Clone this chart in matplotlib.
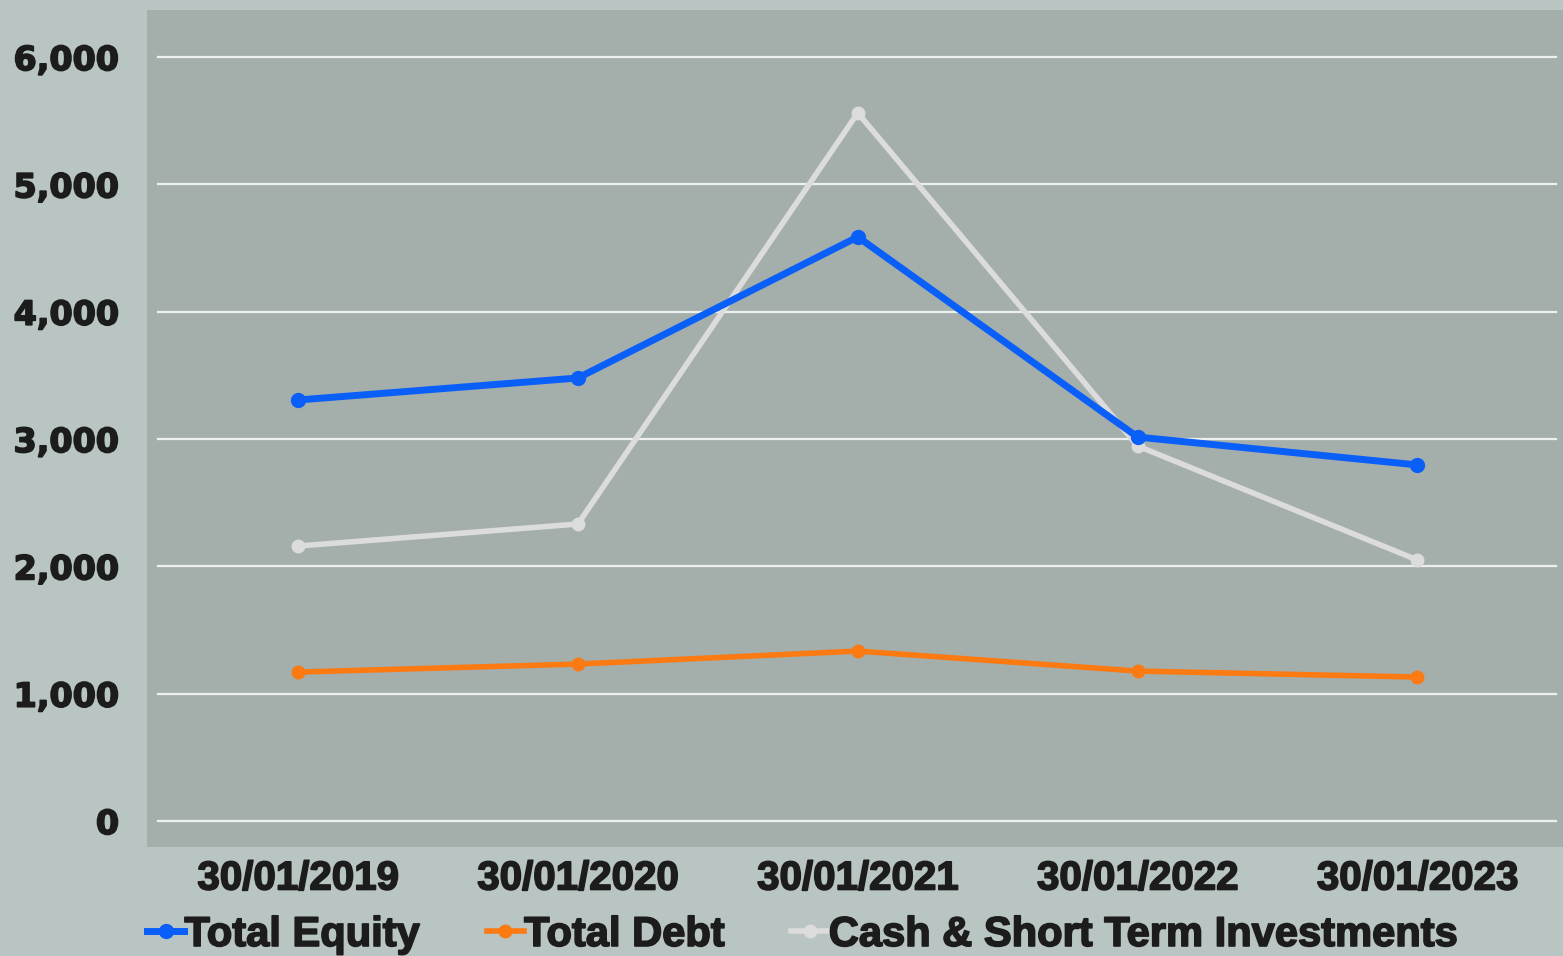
import matplotlib.pyplot as plt
import matplotlib.patheffects as pe

dates = ['30/01/2019', '30/01/2020', '30/01/2021', '30/01/2022', '30/01/2023']
total_equity = [3307, 3480, 4588, 3016, 2797]
total_debt = [1170, 1233, 1335, 1178, 1131]
cash_sti = [2160, 2333, 5562, 2946, 2050]
yticks = [0, 1000, 2000, 3000, 4000, 5000, 6000]

plt.rcParams['font.family'] = ['Liberation Sans', 'DejaVu Sans']
plt.rcParams['font.weight'] = 'bold'
heavy = [pe.withStroke(linewidth=1.2, foreground='#1c1c1c')]

fig = plt.figure(figsize=(15.63, 9.56), dpi=100, facecolor='#b9c5c3')
ax = fig.add_axes([0.094, 0.114, 0.906, 0.8755])
ax.set_facecolor('#a4afac')

x = list(range(len(dates)))
ax.plot(x, total_equity, color='#0a5ff9', lw=5, marker='o', ms=10, label='Total Equity', zorder=4)
ax.plot(x, total_debt, color='#fb7a12', lw=4, marker='o', ms=9, label='Total Debt', zorder=3)
ax.plot(x, cash_sti, color='#dcdcdc', lw=4, marker='o', ms=9, label='Cash & Short Term Investments', zorder=2)

ax.set_xlim(-0.54, 4.52)
ax.set_ylim(-204, 6370)
ax.set_yticks(yticks)
ax.set_yticklabels([f'{v:,}' for v in yticks], fontsize=24, color='#1c1c1c',
                   family='DejaVu Sans', fontweight='bold', path_effects=heavy)
ax.set_xticks(x)
ax.set_xticklabels(dates, fontsize=29, color='#1c1c1c', path_effects=heavy)
ax.tick_params(axis='y', length=0, pad=20)
ax.tick_params(axis='x', length=0, pad=9)
for v in yticks:
    ax.axhline(v, xmin=0.008, xmax=0.995, color='#eef0ef', lw=1.6, zorder=1)
for s in ax.spines.values():
    s.set_visible(False)

leg = fig.legend(loc='center left', bbox_to_anchor=(0.094, 0.022), ncol=3, frameon=False,
                 fontsize=30, handlelength=0.9, handletextpad=0.0, columnspacing=1.6,
                 labelcolor='#1c1c1c', borderaxespad=0, borderpad=0)
for t in leg.get_texts():
    t.set_path_effects(heavy)

fig.savefig('out.png', dpi=100, facecolor=fig.get_facecolor())
